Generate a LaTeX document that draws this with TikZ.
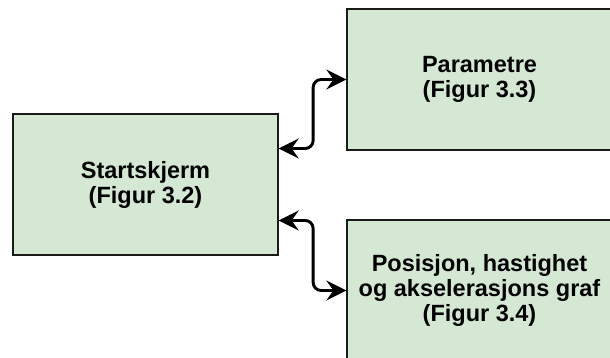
\documentclass[tikz,border=0pt]{standalone}
\usepackage{fontspec}
\setmainfont{Liberation Sans}
\usetikzlibrary{arrows.meta}
\definecolor{boxfill}{HTML}{D5E8D4}
\definecolor{boxline}{HTML}{1A1A1A}
\tikzset{
  screenbox/.style={draw=boxline, fill=boxfill, line width=1.3pt,
    minimum width=265pt, minimum height=141pt, inner sep=0pt,
    align=center, font=\bfseries\fontsize{23.5}{25}\selectfont},
  navtip/.tip={Stealth[length=20pt, width=20pt, inset=7pt]},
  conn/.style={line width=2.9pt, rounded corners=8pt, navtip-navtip}
}
\begin{document}
\begin{tikzpicture}[x=1pt, y=-1pt]
  \useasboundingbox (0,0) rectangle (610,358);
  \clip (0,0) rectangle (610,358);
  % three screens
  \node[screenbox] (start) at (145.5,184.5) {Startskjerm\\(Figur 3.2)};
  \node[screenbox] (param) at (479.5,79.5) {Parametre\\(Figur 3.3)};
  \node[screenbox] (graf)  at (479.5,290.5) {Posisjon, hastighet\\og akselerasjons graf\\(Figur 3.4)};
  % navigation links
  \draw[conn] ([yshift=36pt]start.east) -- ++(34.5,0) |- (param.west);
  \draw[conn] ([yshift=-36pt]start.east) -- ++(34.5,0) |- (graf.west);
\end{tikzpicture}
\end{document}
